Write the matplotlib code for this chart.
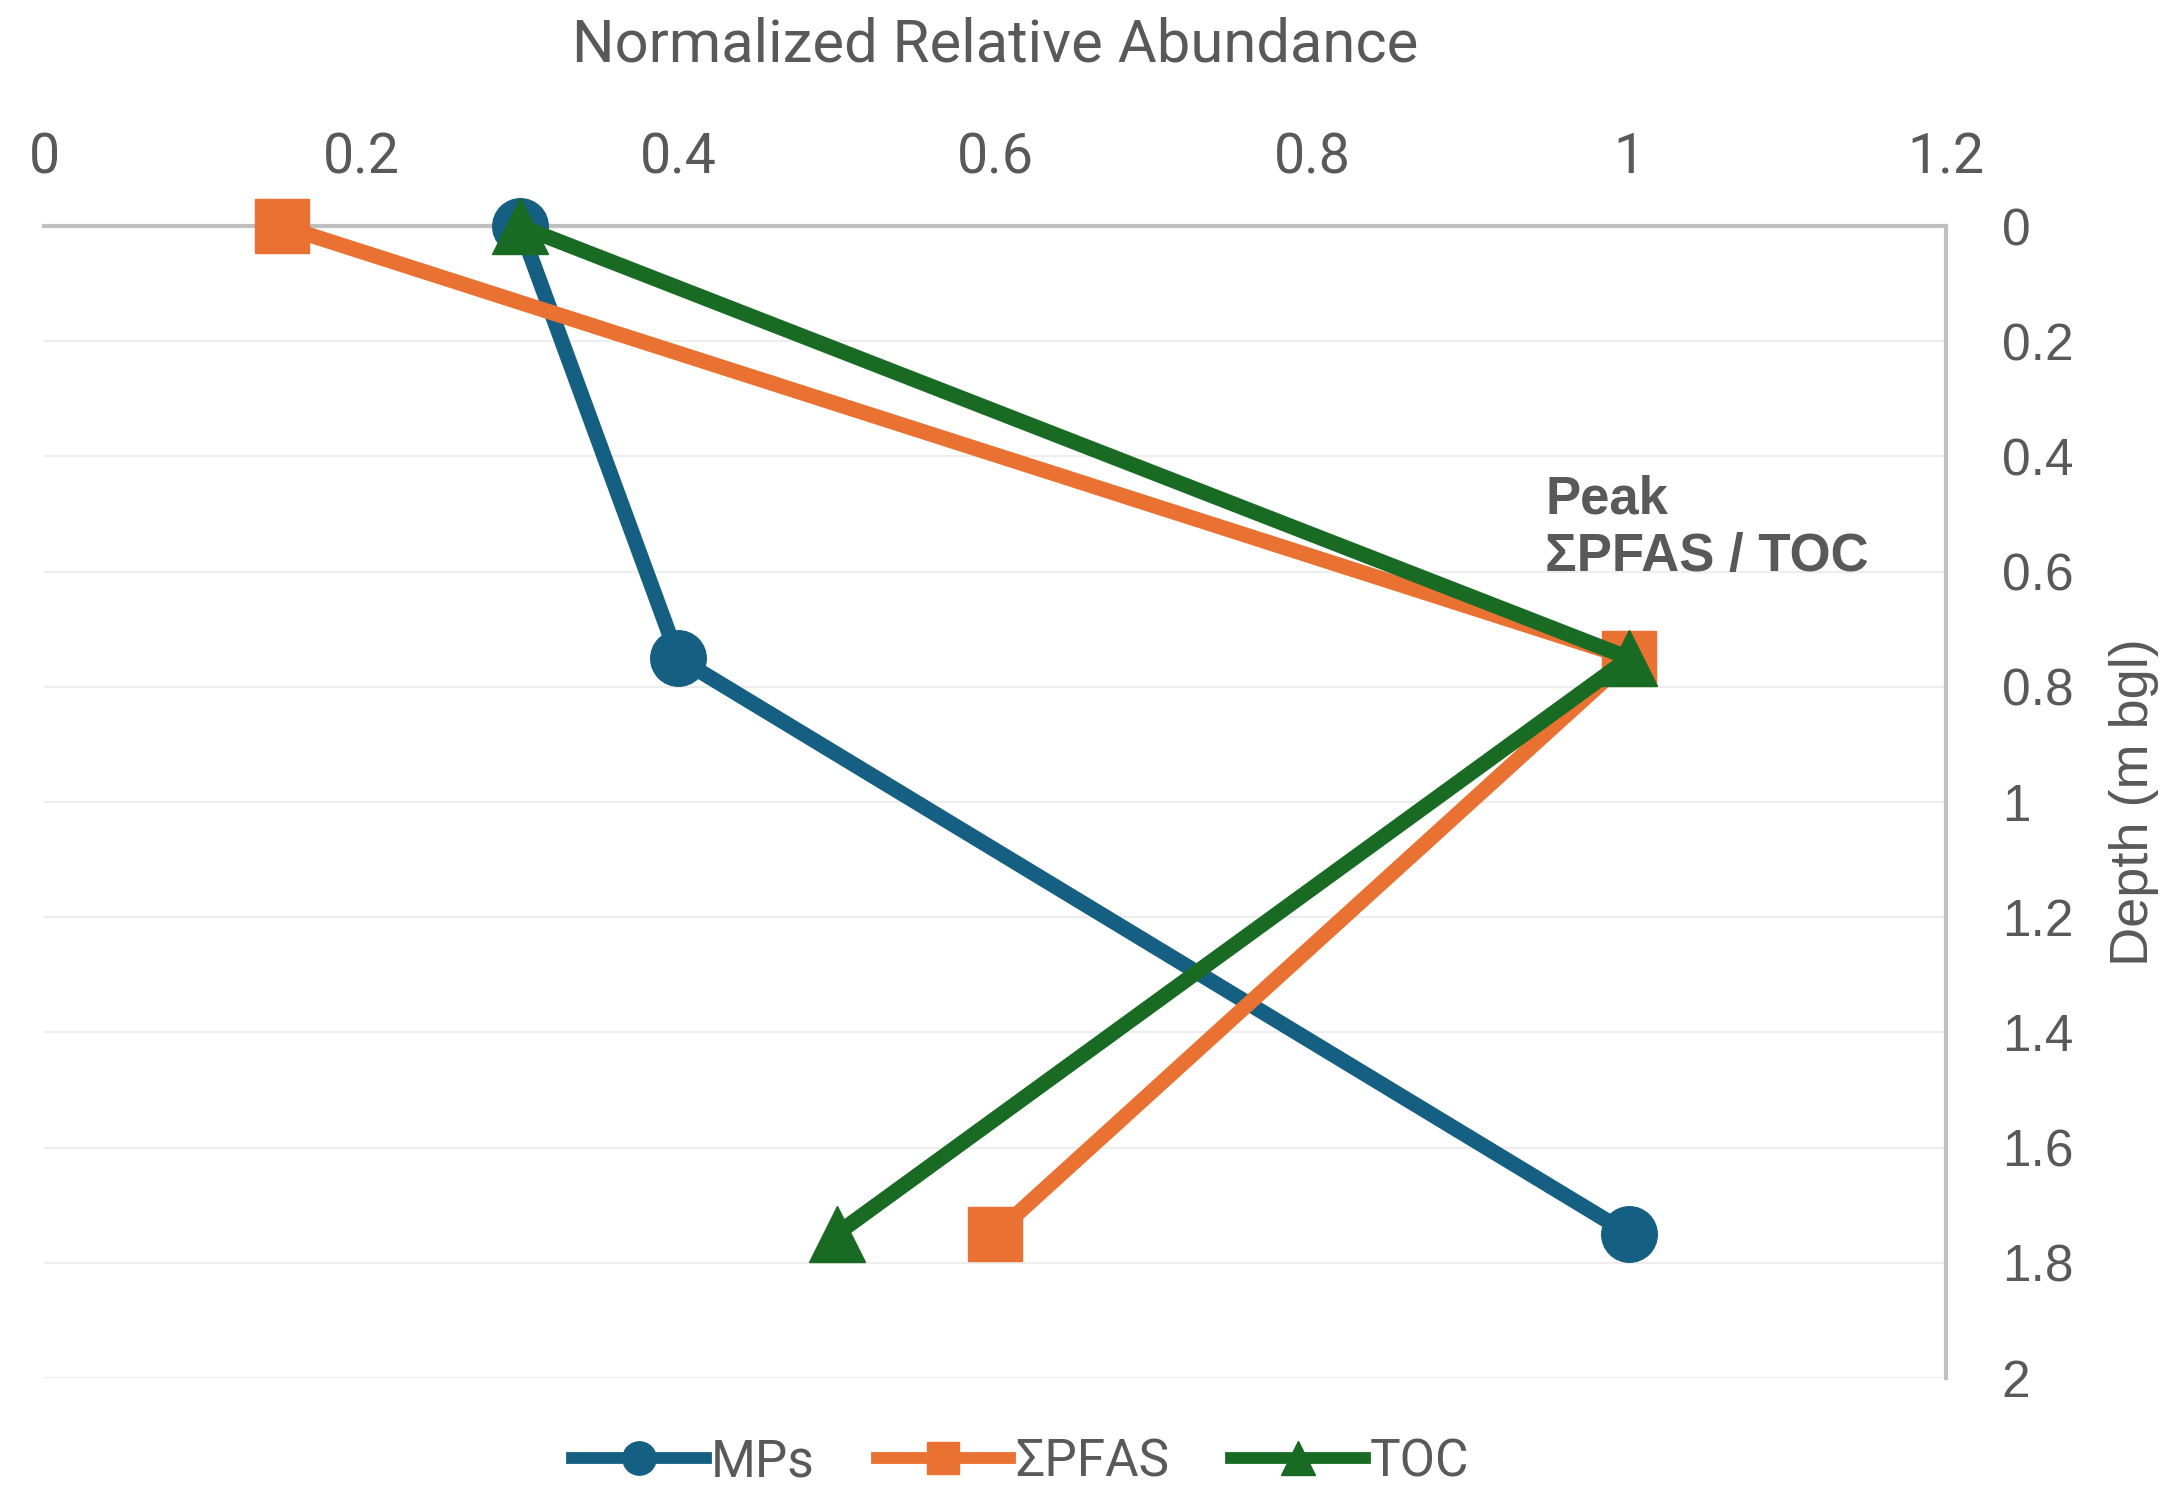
import numpy as np
import matplotlib.pyplot as plt
from matplotlib.ticker import FuncFormatter

depth = [0, 0.75, 1.75]
mps = [0.3, 0.4, 1.0]
pfas = [0.15, 1.0, 0.6]
toc = [0.3, 1.0, 0.5]
series_names = ["MPs", "ΣPFAS", "TOC"]
x_ticks = [0, 0.2, 0.4, 0.6, 0.8, 1.0, 1.2]
y_ticks = [0, 0.2, 0.4, 0.6, 0.8, 1.0, 1.2, 1.4, 1.6, 1.8, 2.0]

txt = "#595959"
fig = plt.figure(figsize=(21.72, 14.93), dpi=100)
ax = fig.add_axes([0.0203, 0.077, 0.8757, 0.7716])

ax.plot(mps, depth, color="#156082", lw=11, marker="o", ms=40,
        label=series_names[0], zorder=3, clip_on=False)
ax.plot(pfas, depth, color="#E97132", lw=11, marker="s", ms=39,
        label=series_names[1], zorder=4, clip_on=False)
ax.plot(toc, depth, color="#196B24", lw=11, marker="^", ms=40,
        label=series_names[2], zorder=5, clip_on=False)

ax.set_xlim(0, 1.2)
ax.set_ylim(2, 0)
ax.set_xticks(x_ticks)
ax.set_yticks(y_ticks)
fmt = FuncFormatter(lambda v, p: "%g" % round(v, 2))
ax.xaxis.set_major_formatter(fmt)
ax.yaxis.set_major_formatter(fmt)
ax.xaxis.tick_top()
ax.yaxis.tick_right()
ax.yaxis.set_label_position("right")
ax.xaxis.set_label_position("top")
ax.tick_params(axis="x", length=0, pad=30, labelsize=40, labelcolor=txt)
ax.tick_params(axis="y", length=0, pad=40, labelsize=37, labelcolor=txt)
for lab in ax.get_xticklabels():
    lab.set_fontfamily("Roboto")
for lab in ax.get_yticklabels():
    lab.set_fontfamily("Liberation Sans")

ax.grid(axis="y", color="#EDEDED", lw=1.5, zorder=0)
for s in ["left", "bottom"]:
    ax.spines[s].set_visible(False)
for s in ["top", "right"]:
    ax.spines[s].set_color("#BFBFBF")
    ax.spines[s].set_linewidth(3)

ax.set_xlabel("Normalized Relative Abundance", fontsize=43, color=txt,
              family="Roboto", labelpad=50)
ax.set_ylabel("Depth (m bgl)", fontsize=39, color=txt,
              family="Liberation Sans", labelpad=26)

ax.text(0.947, 0.525, "Peak\nΣPFAS / TOC", fontsize=38, fontweight="bold",
        color=txt, family="Liberation Sans", ha="left", va="center",
        linespacing=1.2)

leg = fig.legend(loc="lower center", bbox_to_anchor=(0.47, -0.027), ncol=3,
                 frameon=False, fontsize=37, handlelength=2.6, columnspacing=1.2,
                 handletextpad=0.1, markerscale=0.6)
for h in leg.legend_handles:
    h.set_linewidth(8.5)
for t in leg.get_texts():
    t.set_color(txt)
    t.set_fontfamily("Roboto")

fig.savefig("out.png", dpi=100)
